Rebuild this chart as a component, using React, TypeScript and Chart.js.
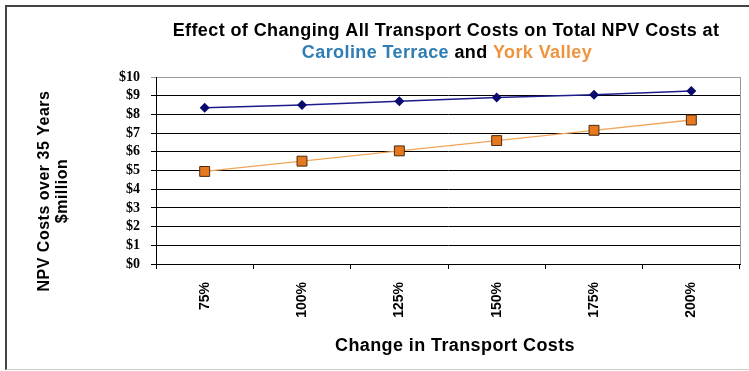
import React, { useEffect, useRef } from "react";
import { Chart, registerables } from "chart.js";

Chart.register(...registerables);

const categories = ["75%", "100%", "125%", "150%", "175%", "200%"];
const carolineTerrace = [8.35, 8.5, 8.7, 8.9, 9.05, 9.25];
const yorkValley = [4.95, 5.5, 6.05, 6.6, 7.15, 7.7];
const yTicks = [0, 1, 2, 3, 4, 5, 6, 7, 8, 9, 10];

const titleLine1 = "Effect of Changing All Transport Costs on Total NPV Costs at";
const titleParts = [
  { text: "Caroline Terrace", color: "#2F7DB5" },
  { text: " and ", color: "#000000" },
  { text: "York Valley", color: "#F0933E" },
];
const yTitle = ["NPV Costs over 35 Years", "$million"];
const xTitle = "Change in Transport Costs";

const SANS = "'Liberation Sans', Arial, sans-serif";
const SERIF = "'Liberation Serif', 'Times New Roman', serif";

const textPlugin = {
  id: "chartTexts",
  afterDraw(chart: any) {
    const { ctx, chartArea } = chart;
    ctx.save();
    // right border of the plot area
    ctx.strokeStyle = "#9a9a9a";
    ctx.lineWidth = 1;
    ctx.beginPath();
    ctx.moveTo(Math.round(chartArea.right) + 0.5, chartArea.top);
    ctx.lineTo(Math.round(chartArea.right) + 0.5, chartArea.bottom);
    ctx.stroke();

    // chart title
    ctx.font = `bold 18px ${SANS}`;
    (ctx as any).letterSpacing = "0.4px";
    ctx.textBaseline = "middle";
    ctx.textAlign = "center";
    ctx.fillStyle = "#000";
    ctx.fillText(titleLine1, 446, 31);
    const total = titleParts.reduce((s, p) => s + ctx.measureText(p.text).width, 0);
    let x = 447 - total / 2;
    ctx.textAlign = "left";
    for (const p of titleParts) {
      ctx.fillStyle = p.color;
      ctx.fillText(p.text, x, 53);
      x += ctx.measureText(p.text).width;
    }

    // x axis title
    ctx.fillStyle = "#000";
    ctx.textAlign = "center";
    ctx.fillText(xTitle, 455, 346);

    // y axis title
    ctx.font = `bold 16px ${SANS}`;
    (ctx as any).letterSpacing = "0.5px";
    ctx.translate(0, 191);
    ctx.rotate(-Math.PI / 2);
    ctx.fillText(yTitle[0], 0, 45);
    ctx.fillText(yTitle[1], 0, 63);
    ctx.restore();
  },
};

export default function App() {
  const ref = useRef<HTMLCanvasElement>(null);

  useEffect(() => {
    if (!ref.current) return;
    const chart = new Chart(ref.current, {
      type: "line",
      data: {
        labels: categories,
        datasets: [
          {
            label: "Caroline Terrace",
            data: carolineTerrace,
            borderColor: "#1C1C8A",
            backgroundColor: "#0A0A6E",
            borderWidth: 1.5,
            pointStyle: "rectRot",
            pointRadius: 5,
            pointBorderWidth: 0,
            pointBackgroundColor: "#0A0A6E",
            tension: 0,
          },
          {
            label: "York Valley",
            data: yorkValley,
            borderColor: "#F2A55A",
            backgroundColor: "#E6781E",
            borderWidth: 1.3,
            pointStyle: "rect",
            pointRadius: 7,
            pointBorderWidth: 1,
            pointBorderColor: "#4A2A10",
            pointBackgroundColor: "#E6781E",
            tension: 0,
          },
        ],
      },
      options: {
        animation: false,
        responsive: false,
        maintainAspectRatio: false,
        layout: { padding: { left: 0, top: 77, right: 9, bottom: 0 } },
        plugins: {
          legend: { display: false },
          title: { display: false },
          tooltip: { enabled: false },
        },
        scales: {
          x: {
            offset: true,
            afterFit(scale: any) {
              scale.height = 107;
            },
            grid: {
              offset: true,
              drawOnChartArea: false,
              drawTicks: true,
              tickLength: 5,
              color: "#000",
            },
            border: { color: "#000", width: 1 },
            ticks: {
              minRotation: 90,
              maxRotation: 90,
              autoSkip: false,
              padding: 13,
              color: "#000",
              font: { family: SANS, size: 14, weight: "bold" },
            },
          },
          y: {
            min: 0,
            max: 10,
            afterFit(scale: any) {
              scale.width = 156;
            },
            afterBuildTicks(scale: any) {
              scale.ticks = yTicks.map((v) => ({ value: v }));
            },
            grid: {
              color: (c: any) => (c.tick && c.tick.value === 10 ? "#9a9a9a" : "#000"),
              tickLength: 5,
              lineWidth: 1,
            },
            border: { color: "#000", width: 1 },
            ticks: {
              autoSkip: false,
              padding: 11,
              color: "#000",
              font: { family: SERIF, size: 14, weight: "bold" },
              callback: (v: any) => "$" + v,
            },
          },
        },
      },
      plugins: [textPlugin],
    });
    return () => chart.destroy();
  }, []);

  return (
    <div style={{ position: "absolute", left: 0, top: 0, width: 749, height: 371, background: "#fff" }}>
      <canvas ref={ref} width={749} height={371} style={{ position: "absolute", left: 0, top: 0 }} />
      <div
        style={{
          position: "absolute",
          left: 5,
          top: 5,
          width: 744,
          height: 362,
          borderLeft: "2px solid #444",
          borderTop: "2px solid #444",
          borderBottom: "1px solid #ccc",
          pointerEvents: "none",
        }}
      />
    </div>
  );
}
